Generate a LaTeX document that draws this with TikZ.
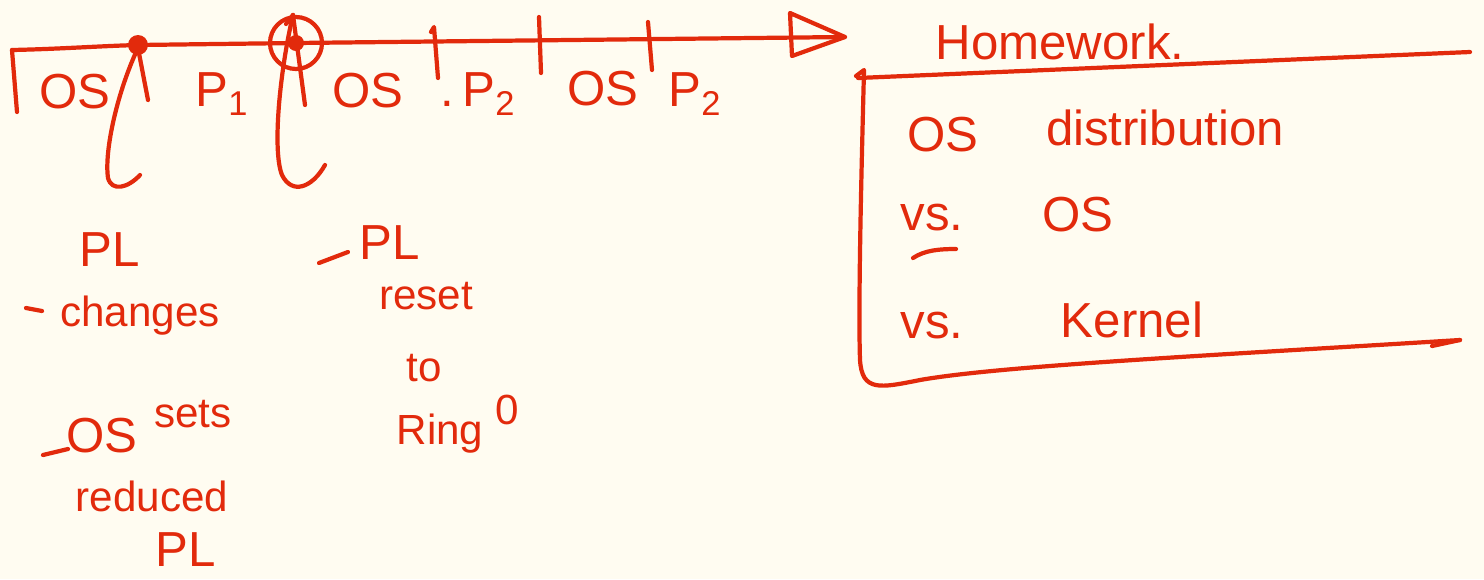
\documentclass[tikz,border=0pt]{standalone}
\usepackage{fontspec}
\setmainfont{Liberation Sans}
\definecolor{ink}{HTML}{E22A0C}
\definecolor{paper}{HTML}{FFFCF1}
\begin{document}
\begin{tikzpicture}[x=0.02cm,y=-0.02cm,
  stroke/.style={draw=ink,line width=2.4pt,line cap=round,line join=round},
  hw/.style={text=ink,font=\fontsize{28}{30}\selectfont,inner sep=0pt},
  hwsmall/.style={text=ink,font=\fontsize{24}{26}\selectfont,inner sep=0pt}]
\fill[paper] (0,0) rectangle (1484,579);
\useasboundingbox (0,0) rectangle (1484,579);

% timeline
\coordinate (t0) at (12,50);
\coordinate (t1) at (138,45);
\coordinate (t2) at (296,43);
\coordinate (tend) at (845,37);
\draw[stroke] (t0) .. controls (60,49) and (100,46) .. (t1) -- (t2) -- (tend);
\draw[stroke] (t0) -- (17,112);
% open triangle head
\coordinate (h1) at (790,13);
\coordinate (h2) at (792,56);
\draw[stroke] (h1) -- (h2) -- (tend) -- cycle;

% points
\fill[ink] (t1) circle (10);
\fill[ink] (t2) circle (8);
\draw[stroke] (t2) circle (26);

% ticks
\coordinate (k1a) at (434,27); \coordinate (k1b) at (438,78);
\coordinate (k2a) at (539,17); \coordinate (k2b) at (541,73);
\coordinate (k3a) at (648,22); \coordinate (k3b) at (652,70);
\draw[stroke] (431,32) -- (k1a) -- (k1b);
\draw[stroke] (k2a) -- (k2b);
\draw[stroke] (k3a) -- (k3b);

% curved arrows up to the points
\coordinate (a1) at (138,48);
\draw[stroke] (a1) .. controls (118,90) and (104,150) .. (108,178)
  .. controls (112,192) and (128,188) .. (140,175);
\draw[stroke] (a1) -- (148,100);
\coordinate (a2) at (293,15);
\draw[stroke] (a2) .. controls (280,70) and (272,150) .. (282,175)
  .. controls (292,195) and (312,188) .. (325,165);
\draw[stroke] (a2) -- (305,105);
\draw[stroke] (286,24) -- (a2);

% timeline labels
\node[hw] (os1) at (75,92) {OS};
\node[hw] (p1) at (222,94) {P\textsubscript{1}};
\node[hw] (os2) at (368,91) {OS};
\node[hw] (p2a) at (478,94) {.\,P\textsubscript{2}};
\node[hw] (os3) at (603,89) {OS};
\node[hw] (p2b) at (695,94) {P\textsubscript{2}};

% notes below first point
\node[hw] (pl1) at (110,250) {PL};
\coordinate (m1a) at (26,308); \coordinate (m1b) at (42,311);
\draw[stroke] (m1a) -- (m1b);
\node[hwsmall] (chg) at (140,316) {changes};
\coordinate (m2a) at (43,455); \coordinate (m2b) at (68,449);
\draw[stroke] (m2a) -- (m2b);
\node[hw] (os4) at (102,436) {OS};
\node[hwsmall] (sets) at (193,414) {sets};
\node[hwsmall] (red) at (152,496) {reduced};
\node[hw] (pl2) at (186,550) {PL};

% notes below second point
\coordinate (m3a) at (319,263); \coordinate (m3b) at (348,252);
\draw[stroke] (m3a) -- (m3b);
\node[hw] (pl3) at (390,243) {PL};
\node[hwsmall] (reset) at (426,296) {reset};
\node[hwsmall] (to) at (424,368) {to};
\node[hwsmall] (ring) at (440,434) {Ring};
\node[hwsmall] (zero) at (507,410) {0};

% homework box
\node[hw] (hwk) at (1060,42) {Homework.};
\coordinate (b1) at (858,78);
\coordinate (b2) at (1470,52);
\coordinate (b3) at (1460,340);
\draw[stroke] (b1) -- (b2);
\draw[stroke] (856,76) -- (864,70) .. controls (862,150) and (858,300) .. (860,360)
  .. controls (862,392) and (880,388) .. (920,380)
  .. controls (1000,366) and (1200,356) .. (b3);
\draw[stroke] (1432,346) -- (b3);

\node[hw] (os5) at (943,135) {OS};
\node[hw] (dist) at (1165,128) {distribution};
\node[hw] (vs1) at (932,218) {vs.};
\draw[stroke] (913,258) .. controls (925,250) and (940,249) .. (956,249);
\node[hw] (os6) at (1078,215) {OS};
\node[hw] (vs2) at (932,326) {vs.};
\node[hw] (kern) at (1132,320) {Kernel};
\end{tikzpicture}
\end{document}
